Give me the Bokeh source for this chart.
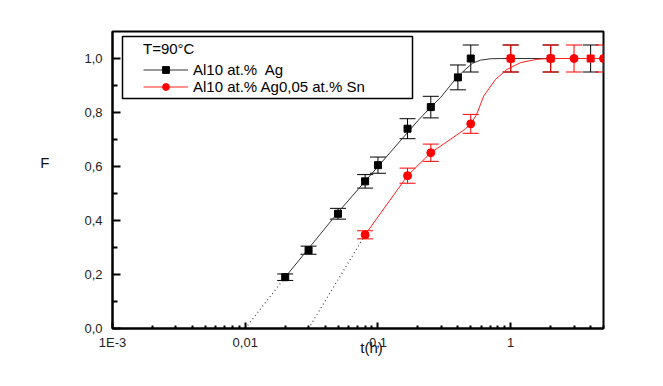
from bokeh.plotting import figure
from bokeh.models import (ColumnDataSource, FixedTicker, Whisker, TeeHead, Legend,
                          LegendItem, BoxAnnotation, Range1d, LinearAxis, LogAxis)
from bokeh.embed import file_html
from bokeh.resources import INLINE

# ---- data ----
t_ag = [0.02, 0.03, 0.05, 0.08, 0.1, 0.167, 0.25, 0.4, 0.5, 1.0, 2.0, 4.0]
F_ag = [0.19, 0.29, 0.425, 0.545, 0.605, 0.74, 0.82, 0.93, 1.0, 1.0, 1.0, 1.0]
err_ag = [0.012, 0.015, 0.02, 0.025, 0.03, 0.037, 0.04, 0.046, 0.05, 0.05, 0.05, 0.05]

t_sn = [0.08, 0.167, 0.25, 0.5, 1.0, 2.0, 3.0, 5.0]
F_sn = [0.347, 0.566, 0.651, 0.758, 1.0, 1.0, 1.0, 1.0]
err_sn = [0.015, 0.028, 0.032, 0.035, 0.05, 0.05, 0.05, 0.05]

# fitted curves
fit_ag_t = [0.02, 0.05, 0.1, 0.2, 0.25, 0.296, 0.391, 0.457, 0.514, 0.593, 0.706, 0.85, 5.0]
fit_ag_F = [0.19, 0.43, 0.60, 0.77, 0.82, 0.855, 0.929, 0.96, 0.982, 0.994, 0.999, 1.0, 1.0]
fit_sn_t = [0.08, 0.167, 0.25, 0.35, 0.4, 0.45, 0.5, 0.55, 0.59, 0.626, 0.77, 0.94, 1.19, 1.58, 2.0, 5.0]
fit_sn_F = [0.347, 0.566, 0.651, 0.70, 0.72, 0.737, 0.758, 0.79, 0.828, 0.861, 0.923, 0.96, 0.985, 0.997, 1.0, 1.0]

# dotted extrapolations
ext_ag_t = [0.01, 0.02]
ext_ag_F = [0.0, 0.19]
ext_sn_t = [0.03, 0.08]
ext_sn_F = [0.0, 0.347]

x_ticks = [0.001, 0.01, 0.1, 1.0]
x_tick_labels = ["1E-3", "0,01", "0,1", "1"]
x_minor = [k * 10.0 ** e for e in range(-3, 1) for k in range(2, 10)]
y_ticks = [0.0, 0.2, 0.4, 0.6, 0.8, 1.0]
y_tick_labels = ["0,0", "0,2", "0,4", "0,6", "0,8", "1,0"]
y_minor = [0.1, 0.3, 0.5, 0.7, 0.9]

legend_title = "T=90°C"
label_ag = "Al10 at.%  Ag"
label_sn = "Al10 at.% Ag0,05 at.% Sn"
x_title = "t(h)"
y_title = "F"

FONT = "Liberation Sans"

# black squares that lie under the red series (t >= 1 h) show up red in the picture
col_ag = ["red" if t >= 1.0 else "black" for t in t_ag]

src_ag = ColumnDataSource(dict(t=t_ag, F=F_ag,
                               lo=[f - e for f, e in zip(F_ag, err_ag)],
                               up=[f + e for f, e in zip(F_ag, err_ag)],
                               c=col_ag))
src_sn = ColumnDataSource(dict(t=t_sn, F=F_sn,
                               lo=[f - e for f, e in zip(F_sn, err_sn)],
                               up=[f + e for f, e in zip(F_sn, err_sn)]))

p = figure(x_axis_type="log", x_range=Range1d(0.001, 5.0), y_range=Range1d(0, 1.1),
           frame_width=491, frame_height=297,
           min_border_left=112, min_border_right=50, min_border_top=31, min_border_bottom=48,
           output_backend="svg", toolbar_location=None)
p.grid.visible = False
p.outline_line_color = "black"
p.outline_line_width = 2
p.background_fill_color = "white"
p.border_fill_color = "white"

for ax in (p.xaxis[0], p.yaxis[0]):
    ax.axis_line_width = 2
    ax.axis_line_color = "black"
    ax.major_tick_line_width = 2
    ax.minor_tick_line_width = 2
    ax.major_tick_out = 0
    ax.minor_tick_out = 0
    ax.major_label_text_font = FONT
    ax.major_label_text_font_size = "13px"
    ax.major_label_text_color = "#222222"

p.xaxis.ticker = FixedTicker(ticks=x_ticks, minor_ticks=x_minor)
p.xaxis.major_label_overrides = {t: l for t, l in zip(x_ticks, x_tick_labels)}
p.xaxis.major_tick_in = 6
p.xaxis.minor_tick_in = 3
p.xaxis.major_label_standoff = 6

p.yaxis.ticker = FixedTicker(ticks=y_ticks, minor_ticks=y_minor)
p.yaxis.major_label_overrides = {t: l for t, l in zip(y_ticks, y_tick_labels)}
p.yaxis.major_tick_in = 8
p.yaxis.minor_tick_in = 5
p.yaxis.major_label_standoff = 10

# axis titles, placed like the original (F above centre, t(h) right of centre)
XT_POS = 0.0895
YT_POS = 0.615
xt_axis = LogAxis(ticker=FixedTicker(ticks=[XT_POS], minor_ticks=[]),
                  major_label_overrides={XT_POS: x_title},
                  axis_line_color=None, major_tick_line_color=None, minor_tick_line_color=None,
                  major_label_standoff=-20, major_label_text_font=FONT,
                  major_label_text_font_size="15px", major_label_text_color="#111111")
yt_axis = LinearAxis(ticker=FixedTicker(ticks=[YT_POS], minor_ticks=[]),
                     major_label_overrides={YT_POS: y_title},
                     axis_line_color=None, major_tick_line_color=None, minor_tick_line_color=None,
                     major_label_standoff=26, major_label_text_font=FONT,
                     major_label_text_font_size="15px", major_label_text_color="#111111")
p.add_layout(xt_axis, "below")
p.add_layout(yt_axis, "left")

# dotted extrapolations
p.line(ext_ag_t, ext_ag_F, line_color="#444444", line_width=1.2, line_dash="1 3")
p.line(ext_sn_t, ext_sn_F, line_color="#444444", line_width=1.2, line_dash="1 3")

# fitted curves
r_fit_ag = p.line(fit_ag_t, fit_ag_F, line_color="#333333", line_width=1)
r_fit_sn = p.line(fit_sn_t, fit_sn_F, line_color="#ff2020", line_width=1)

# error bars
w_ag = Whisker(source=src_ag, base="t", upper="up", lower="lo", dimension="height",
               line_color="black", line_width=1,
               upper_head=TeeHead(size=16, line_color="black", line_width=1),
               lower_head=TeeHead(size=16, line_color="black", line_width=1))
w_sn = Whisker(source=src_sn, base="t", upper="up", lower="lo", dimension="height",
               line_color="red", line_width=1,
               upper_head=TeeHead(size=16, line_color="red", line_width=1),
               lower_head=TeeHead(size=16, line_color="red", line_width=1))
p.add_layout(w_ag)
p.add_layout(w_sn)

r_pts_ag = p.scatter("t", "F", source=src_ag, marker="square", size=7,
                     fill_color="c", line_color="c")
r_pts_sn = p.scatter("t", "F", source=src_sn, marker="circle", size=8,
                     fill_color="red", line_color="red")

# legend frame
box = BoxAnnotation(left=10, right=300, bottom=230, top=292,
                    left_units="screen", right_units="screen",
                    top_units="screen", bottom_units="screen",
                    fill_color="white", fill_alpha=1.0,
                    line_color="black", line_width=1.5, line_alpha=1.0)
p.add_layout(box)

legend = Legend(items=[LegendItem(label=label_ag, renderers=[r_fit_ag, r_pts_ag], index=0),
                       LegendItem(label=label_sn, renderers=[r_fit_sn, r_pts_sn], index=0)],
                location=(31, 233), title=legend_title,
                title_text_font=FONT, title_text_font_size="15px", title_text_font_style="normal",
                title_text_color="black", title_standoff=4,
                label_text_font=FONT, label_text_font_size="15px", label_text_color="black",
                padding=0, spacing=0, margin=0, glyph_width=45, glyph_height=17,
                label_height=17, label_standoff=5,
                border_line_alpha=0, background_fill_alpha=0)
p.add_layout(legend)

open("out.html", "w").write(file_html(p, INLINE))
